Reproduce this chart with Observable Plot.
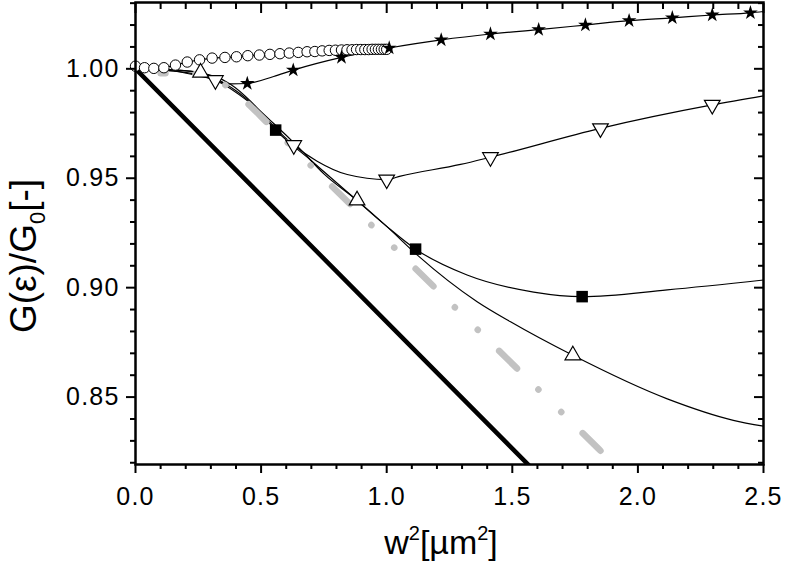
<!DOCTYPE html>
<html><head><meta charset="utf-8">
<script src="https://cdn.jsdelivr.net/npm/d3@7"></script>
<script src="https://cdn.jsdelivr.net/npm/@observablehq/plot@0.6"></script>
<style>body{margin:0;background:#fff;} svg{display:block}</style>
</head><body><div id="chart"></div>
<script>
// ---- tick labels ----
const xMajor = [0, 0.5, 1.0, 1.5, 2.0, 2.5];
const xMinor = [0.1,0.2,0.3,0.4,0.6,0.7,0.8,0.9,1.1,1.2,1.3,1.4,1.6,1.7,1.8,1.9,2.1,2.2,2.3,2.4];
const yMajor = [0.85, 0.90, 0.95, 1.00];
const yMinor = [0.82,0.83,0.84,0.86,0.87,0.88,0.89,0.91,0.92,0.93,0.94,0.96,0.97,0.98,0.99,1.01,1.02,1.03];

// ---- thick black limit line ----
const limitX = [0, 1.6];
const limitY = [1.0, 0.8149];

// ---- gray dash-dot line (listed from its lower end) ----
const grayX = [1.851, 1.60, 1.40, 1.174, 1.00, 0.80, 0.589, 0.525, 0.45, 0.38, 0.30, 0.20, 0.10];
const grayY = [0.8255, 0.8539, 0.8765, 0.902, 0.9217, 0.9443, 0.9681, 0.9753, 0.9838, 0.991, 0.9955, 0.998, 0.998];

// ---- open circles ----
const circX = [0, 0.036, 0.073, 0.113, 0.159, 0.206, 0.255, 0.305, 0.356, 0.402, 0.447, 0.493, 0.535, 0.575, 0.612, 0.648, 0.683, 0.714, 0.743, 0.771, 0.796, 0.820, 0.842, 0.862, 0.880, 0.897, 0.913, 0.928, 0.942, 0.955, 0.967, 0.979, 0.990, 1.0];
const circY = [1.0012, 1.0005, 1.0002, 1.0005, 1.0017, 1.0031, 1.0041, 1.0049, 1.0052, 1.0055, 1.0060, 1.0063, 1.0066, 1.0069, 1.0072, 1.0075, 1.0078, 1.0079, 1.0082, 1.0084, 1.0085, 1.0086, 1.0087, 1.0087, 1.0088, 1.0088, 1.0088, 1.0088, 1.0089, 1.0089, 1.0089, 1.0089, 1.0089, 1.0089];

// ---- stars ----
const starLineX = [0, 0.15, 0.285, 0.378, 0.445, 0.55, 0.628, 0.82, 1.01, 1.217, 1.413, 1.605, 1.791, 1.965, 2.137, 2.296, 2.448, 2.5];
const starLineY = [1.0, 0.999, 0.9959, 0.9931, 0.9933, 0.9965, 0.9994, 1.0052, 1.0095, 1.0132, 1.0159, 1.0179, 1.0200, 1.0220, 1.0233, 1.0246, 1.0256, 1.0262];
const starX = [0.445, 0.628, 0.82, 1.01, 1.217, 1.413, 1.605, 1.791, 1.965, 2.137, 2.296, 2.448];
const starY = [0.9933, 0.9994, 1.0052, 1.0095, 1.0132, 1.0159, 1.0179, 1.0200, 1.0220, 1.0233, 1.0246, 1.0256];

// ---- down triangles ----
const downLineX = [0, 0.15, 0.318, 0.45, 0.63, 0.723, 0.843, 1.0, 1.055, 1.294, 1.413, 1.851, 2.296, 2.5];
const downLineY = [1.0, 0.999, 0.9948, 0.985, 0.9651, 0.9578, 0.9517, 0.9494, 0.951, 0.9563, 0.9596, 0.9728, 0.9835, 0.9876];
const downX = [0.318, 0.63, 1.0, 1.413, 1.851, 2.296];
const downY = [0.9948, 0.9651, 0.9494, 0.9596, 0.9728, 0.9835];

// ---- up triangles ----
const upLineX = [0, 0.15, 0.259, 0.40, 0.55, 0.65, 0.75, 0.882, 1.0, 1.121, 1.36, 1.493, 1.741, 2.117, 2.38, 2.5];
const upLineY = [1.0, 0.9995, 0.9983, 0.990, 0.975, 0.964, 0.952, 0.9399, 0.928, 0.915, 0.8936, 0.8844, 0.8691, 0.8492, 0.8394, 0.8367];
const upX = [0.259, 0.882, 1.741];
const upY = [0.9983, 0.9399, 0.8691];

// ---- filled squares ----
const sqLineX = [0, 0.15, 0.30, 0.378, 0.46, 0.558, 0.70, 0.85, 1.0, 1.115, 1.32, 1.585, 1.778, 2.117, 2.5];
const sqLineY = [1.0, 0.9995, 0.997, 0.993, 0.985, 0.972, 0.958, 0.943, 0.928, 0.9176, 0.9058, 0.898, 0.8959, 0.899, 0.9035];
const sqX = [0.558, 1.115, 1.778];
const sqY = [0.972, 0.9176, 0.8959];

const pts = (xs, ys) => xs.map((x, i) => ({x, y: ys[i]}));
const FONT = "Liberation Sans, Arial, Helvetica, sans-serif";

const chart = Plot.plot({
  width: 786, height: 578,
  marginLeft: 135, marginRight: 23, marginTop: 2, marginBottom: 114,
  style: {fontFamily: FONT, background: "#fff", color: "#000"},
  x: {domain: [0, 2.5], axis: null},
  y: {domain: [0.8192, 1.0303], axis: null},
  marks: [
    Plot.line(pts(limitX, limitY), {x: "x", y: "y", stroke: "#000", strokeWidth: 4.5, clip: true}),
    Plot.line(pts(circX, circY), {x: "x", y: "y", stroke: "#000", strokeWidth: 1.2}),
    Plot.line(pts(starLineX, starLineY), {x: "x", y: "y", stroke: "#000", strokeWidth: 1.2, curve: "monotone-x"}),
    Plot.line(pts(downLineX, downLineY), {x: "x", y: "y", stroke: "#000", strokeWidth: 1.2, curve: "monotone-x"}),
    Plot.line(pts(upLineX, upLineY), {x: "x", y: "y", stroke: "#000", strokeWidth: 1.2, curve: "monotone-x"}),
    Plot.line(pts(sqLineX, sqLineY), {x: "x", y: "y", stroke: "#000", strokeWidth: 1.2, curve: "monotone-x"}),
    Plot.line(pts(grayX, grayY), {x: "x", y: "y", stroke: "#c2c2c2", strokeWidth: 6.5, strokeLinecap: "round", strokeDasharray: "25,30,0.1,32,0.1,30", curve: "monotone-x"}),
    Plot.dot(pts(circX, circY), {x: "x", y: "y", r: 5.2, fill: "#fff", stroke: "#000", strokeWidth: 1}),
    Plot.dot(pts(starX, starY), {x: "x", y: "y", symbol: "star", r: 4.6, fill: "#000", stroke: "none"}),
    Plot.dot(pts(downX, downY), {x: "x", y: "y", symbol: "triangle", r: 5.8, rotate: 180, fill: "#fff", stroke: "#000", strokeWidth: 1.2}),
    Plot.dot(pts(upX, upY), {x: "x", y: "y", symbol: "triangle", r: 5.8, fill: "#fff", stroke: "#000", strokeWidth: 1.2}),
    Plot.dot(pts(sqX, sqY), {x: "x", y: "y", symbol: "square", r: 6.5, fill: "#000", stroke: "none"}),
    Plot.frame({stroke: "#000", strokeWidth: 2.5}),
    Plot.axisX(xMajor, {anchor: "bottom", tickSize: 9, strokeWidth: 2, tickPadding: 14, tickFormat: d => d.toFixed(1), fontSize: 25, label: null}),
    Plot.axisX(xMinor, {anchor: "bottom", tickSize: 5, strokeWidth: 2, fill: "none", label: null}),
    Plot.axisX(xMajor, {anchor: "top", tickSize: -10, strokeWidth: 2, fill: "none", label: null}),
    Plot.axisX(xMinor, {anchor: "top", tickSize: -6, strokeWidth: 2, fill: "none", label: null}),
    Plot.axisY(yMajor, {anchor: "left", tickSize: 9, strokeWidth: 2, tickPadding: 7, tickFormat: d => d.toFixed(2), fontSize: 25, label: null}),
    Plot.axisY(yMinor, {anchor: "left", tickSize: 5, strokeWidth: 2, fill: "none", label: null}),
    Plot.axisY(yMajor, {anchor: "right", tickSize: -10, strokeWidth: 2, fill: "none", label: null}),
    Plot.axisY(yMinor, {anchor: "right", tickSize: -6, strokeWidth: 2, fill: "none", label: null})
  ]
});
document.getElementById("chart").appendChild(chart);

const svg = d3.select(chart);
svg.selectAll("g[aria-label='x-axis tick label'] text, g[aria-label='y-axis tick label'] text").attr("letter-spacing", "1.2px");

// axis titles
const xl = svg.append("text").attr("x", 441).attr("y", 554).attr("text-anchor", "middle")
  .attr("font-family", FONT).attr("font-size", 34).attr("fill", "#000");
xl.append("tspan").text("w");
xl.append("tspan").attr("dy", -14).attr("font-size", 20).text("2");
xl.append("tspan").attr("dy", 14).text("[µm");
xl.append("tspan").attr("dy", -14).attr("font-size", 20).text("2");
xl.append("tspan").attr("dy", 14).text("]");

const yl = svg.append("text").attr("transform", "translate(36,256) rotate(-90)").attr("text-anchor", "middle")
  .attr("font-family", FONT).attr("font-size", 37).attr("fill", "#000");
yl.append("tspan").text("G(ε)/G");
yl.append("tspan").attr("dy", 9).attr("font-size", 22).text("0");
yl.append("tspan").attr("dy", -9).text("[-]");
</script>
</body></html>
